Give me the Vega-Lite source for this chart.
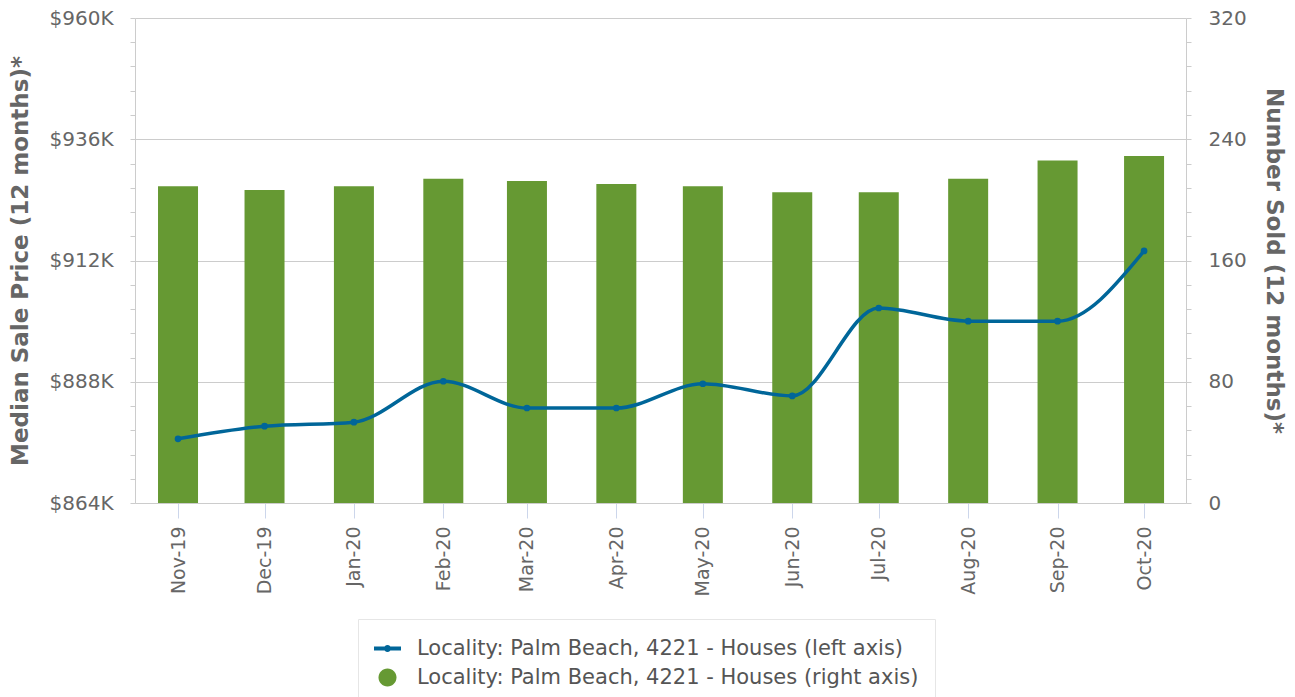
{
  "$schema": "https://vega.github.io/schema/vega-lite/v6.json",
  "autosize": {"type": "none"},
  "padding": {"left": 135, "top": 18, "right": 109, "bottom": 194},
  "width": 1051,
  "height": 485,
  "background": "white",
  "config": {
    "view": {"stroke": null},
    "font": "DejaVu Sans",
    "axis": {"labelFont": "DejaVu Sans", "titleFont": "DejaVu Sans"}
  },
  "data": {
    "values": [
      {"month": "Nov 1, 2019", "price": 876700, "sold": 209},
      {"month": "Dec 1, 2019", "price": 879200, "sold": 206.5},
      {"month": "Jan 1, 2020", "price": 880000, "sold": 209},
      {"month": "Feb 1, 2020", "price": 888100, "sold": 214},
      {"month": "Mar 1, 2020", "price": 882800, "sold": 212.5},
      {"month": "Apr 1, 2020", "price": 882800, "sold": 210.5},
      {"month": "May 1, 2020", "price": 887600, "sold": 209},
      {"month": "Jun 1, 2020", "price": 885200, "sold": 205},
      {"month": "Jul 1, 2020", "price": 902600, "sold": 205},
      {"month": "Aug 1, 2020", "price": 900000, "sold": 214},
      {"month": "Sep 1, 2020", "price": 900000, "sold": 226},
      {"month": "Oct 1, 2020", "price": 913900, "sold": 229}
    ]
  },
  "encoding": {
    "x": {
      "field": "month",
      "type": "temporal",
      "scale": {
        "padding": 0,
        "domain": [
          {"year": 2019, "month": "oct", "date": 17, "hours": 2},
          {"year": 2020, "month": "oct", "date": 15, "hours": 13}
        ]
      },
      "axis": {
        "title": null,
        "format": "%b-%y",
        "labelAngle": 270,
        "tickCount": {"interval": "month", "step": 1},
        "tickSize": 15,
        "tickColor": "#ccd6eb",
        "domainColor": "#cccccc",
        "labelPadding": 8,
        "labelFontSize": 19,
        "labelColor": "#666666",
        "grid": false
      }
    }
  },
  "layer": [
    {
      "mark": {"type": "bar", "size": 40},
      "encoding": {
        "y": {
          "field": "sold",
          "type": "quantitative",
          "scale": {"domain": [0, 320], "nice": false},
          "axis": {
            "orient": "right",
            "title": "Number Sold (12 months)*",
            "titleFontSize": 23,
            "titleFontWeight": "bold",
            "titleColor": "#666666",
            "titlePadding": 15,
            "values": [0, 16, 32, 48, 64, 80, 96, 112, 128, 144, 160, 176, 192, 208, 224, 240, 256, 272, 288, 304, 320],
            "labelExpr": "datum.value % 80 == 0 ? datum.label : ''",
            "labelFontSize": 20,
            "labelColor": "#666666",
            "labelPadding": 17,
            "tickSize": 5,
            "tickColor": "#cccccc",
            "domainColor": "#cccccc",
            "grid": false
          }
        },
        "color": {
          "datum": "Locality: Palm Beach, 4221 - Houses (right axis)",
          "scale": {
            "domain": [
              "Locality: Palm Beach, 4221 - Houses (left axis)",
              "Locality: Palm Beach, 4221 - Houses (right axis)"
            ],
            "range": ["#006699", "#669933"]
          },
          "legend": {
            "orient": "none",
            "legendX": 223,
            "legendY": 601,
            "title": null,
            "padding": 16,
            "strokeColor": "#e6e6e6",
            "fillColor": "white",
            "symbolSize": 729,
            "rowPadding": 5,
            "labelOffset": 16,
            "labelFontSize": 21,
            "labelColor": "#555555",
            "labelLimit": 0,
            "encode": {
              "symbols": {
                "update": {
                  "shape": {"signal": "indexof(datum.value, 'left') >= 0 ? 'M-1,-0.15L1,-0.15L1,0.15L-1,0.15Z M-0.26,0A0.26,0.26 0 1,1 0.26,0A0.26,0.26 0 1,1 -0.26,0Z' : 'M-0.667,0A0.667,0.667 0 1,1 0.667,0A0.667,0.667 0 1,1 -0.667,0Z'"},
                  "fill": {"signal": "indexof(datum.value, 'left') >= 0 ? '#006699' : '#669933'"},
                  "fillOpacity": {"value": 1},
                  "opacity": {"value": 1},
                  "stroke": {"value": "transparent"},
                  "strokeWidth": {"value": 0}
                }
              }
            }
          }
        }
      }
    },
    {
      "mark": {
        "type": "line",
        "interpolate": "monotone",
        "strokeWidth": 3.5,
        "point": {"filled": true, "size": 45, "opacity": 1}
      },
      "encoding": {
        "y": {
          "field": "price",
          "type": "quantitative",
          "scale": {"domain": [864000, 960000], "nice": false, "zero": false},
          "axis": {
            "orient": "left",
            "title": "Median Sale Price (12 months)*",
            "titleFontSize": 23,
            "titleFontWeight": "bold",
            "titleColor": "#666666",
            "titlePadding": 16,
            "values": [864000, 868800, 873600, 878400, 883200, 888000, 892800, 897600, 902400, 907200, 912000, 916800, 921600, 926400, 931200, 936000, 940800, 945600, 950400, 955200, 960000],
            "labelExpr": "datum.value % 24000 == 0 ? '$' + format(datum.value / 1000, 'd') + 'K' : ''",
            "labelFontSize": 20,
            "labelColor": "#666666",
            "labelPadding": 17,
            "tickSize": 5,
            "tickColor": "#cccccc",
            "domainColor": "#cccccc",
            "grid": true,
            "gridColor": "#cccccc",
            "gridOpacity": {"condition": {"test": "datum.value % 24000 == 0", "value": 1}, "value": 0}
          }
        },
        "color": {"datum": "Locality: Palm Beach, 4221 - Houses (left axis)"}
      }
    }
  ],
  "resolve": {"scale": {"y": "independent"}}
}
